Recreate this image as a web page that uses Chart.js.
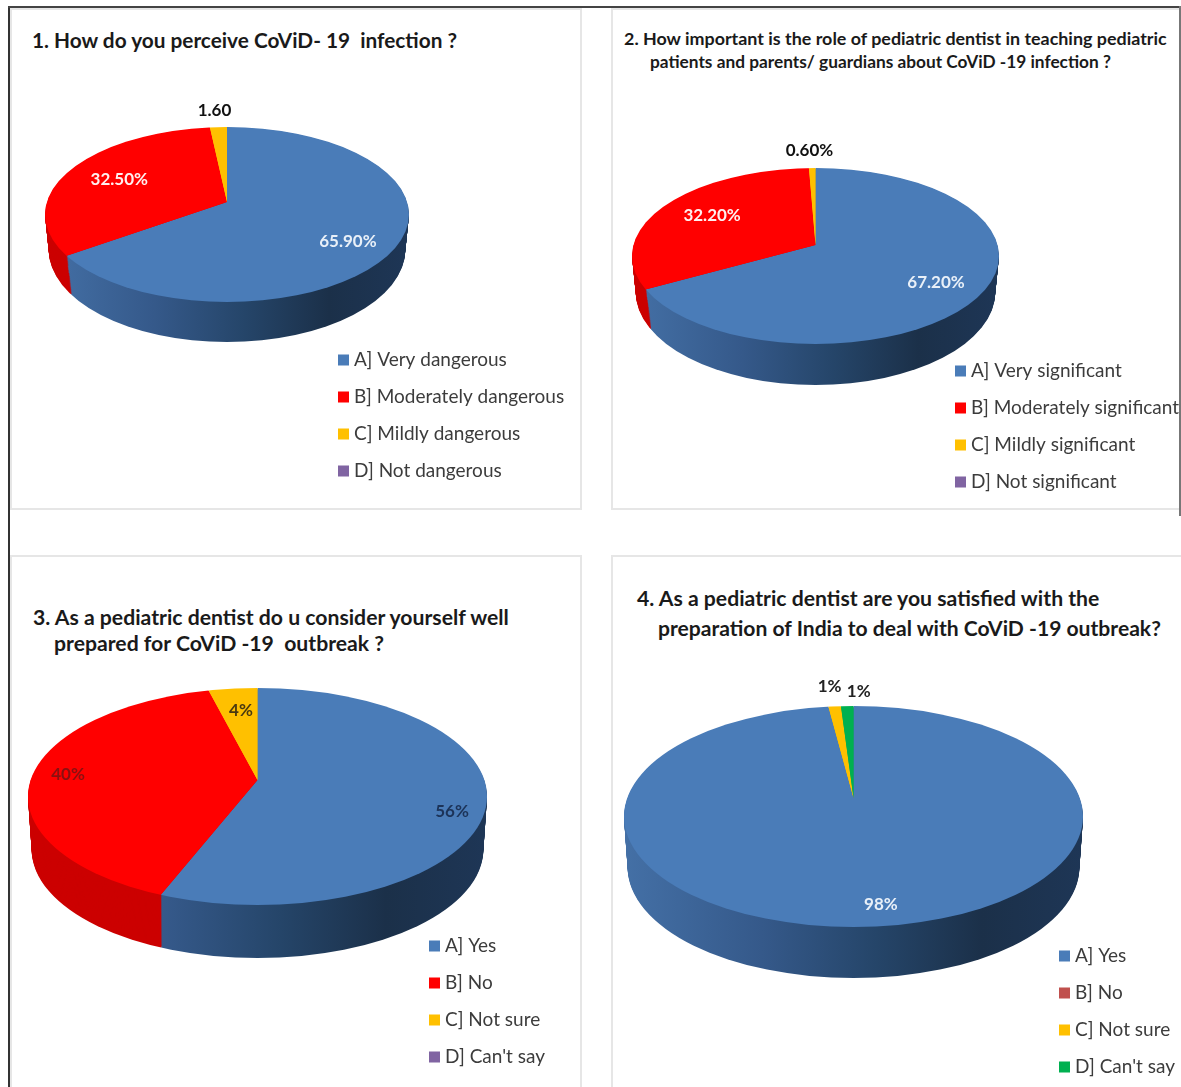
<!DOCTYPE html>
<html><head><meta charset="utf-8">
<script src="https://cdn.jsdelivr.net/npm/chart.js@4"></script>
<style>
html,body{margin:0;padding:0;background:#fff;width:1181px;height:1087px;overflow:hidden}
canvas{position:absolute;left:0;top:0}
.panel{position:absolute;box-sizing:border-box;border:2px solid #e6e6e6;background:#fff}
.t{position:absolute;font-family:Lato,sans-serif;font-weight:700;color:#1a1a1a;white-space:pre;line-height:1;transform:translateY(-50%)}
.rule{position:absolute;background:#333}
</style></head><body>
<script>
// ---- data ----
const categories1 = ["A] Very dangerous","B] Moderately dangerous","C] Mildly dangerous","D] Not dangerous"];
const values1 = [65.9,32.5,1.6,0];
const labels1 = ["65.90%","32.50%","1.60",""];
const categories2 = ["A] Very significant","B] Moderately significant","C] Mildly significant","D] Not significant"];
const values2 = [67.2,32.2,0.6,0];
const labels2 = ["67.20%","32.20%","0.60%",""];
const categories3 = ["A] Yes","B] No","C] Not sure","D] Can't say"];
const values3 = [56,40,4,0];
const labels3 = ["56%","40%","4%",""];
const categories4 = ["A] Yes","B] No","C] Not sure","D] Can't say"];
const values4 = [98,0,1,1];
const labels4 = ["98%","","1%","1%"];
const titles1 = ["1. How do you perceive CoViD- 19  infection ?"];
const titles2 = ["2. How important is the role of pediatric dentist in teaching pediatric","patients and parents/ guardians about CoViD -19 infection ?"];
const titles3 = ["3. As a pediatric dentist do u consider yourself well","prepared for CoViD -19  outbreak ?"];
const titles4 = ["4. As a pediatric dentist are you satisfied with the","preparation of India to deal with CoViD -19 outbreak?"];

// ---- styling and layout ----
const BLUE="#4a7cb8", RED="#ff0000", ORANGE="#ffc000", PURPLE="#8064a2", GREEN="#00b050", BRICK="#c0504d";
const W=1181, H=1087, OVER=1.35;
const panels=[
 {box:[10,8,572,502],cats:categories1,vals:values1,labs:labels1,cols:[BLUE,RED,ORANGE,PURPLE],
  cx:227,vy:202,rx:182,top:127,bot:302,depth:40,grow:5,kUp:.44,kDown:.52,taper:.02,
  legX:338,legY:360,
  lf:[.757,.657,1.15],ld:[[0,5],[0,0],[-2,0]],lc:["#e9f0f8","#fff0f0","#111"],
  titles:titles1,tpos:[[32,40]],tsize:[20.8]},
 {box:[611,8,572,502],cats:categories2,vals:values2,labs:labels2,cols:[BLUE,RED,ORANGE,PURPLE],
  cx:815.5,vy:245,rx:183.5,top:168,bot:344,depth:41,grow:5,kUp:.44,kDown:.49,taper:.02,
  legX:955,legY:371,
  lf:[.766,.65,1.165],ld:[[0,2],[0,-3],[-2,0]],lc:["#e9f0f8","#fff0f0","#111"],
  titles:titles2,tpos:[[624,39],[650,62]],tsize:[17.9,17.3]},
 {box:[10,555,572,534],cats:categories3,vals:values3,labs:labels3,cols:[BLUE,RED,ORANGE,PURPLE],
  cx:257.5,vy:780,rx:229.5,top:688,bot:905,depth:53,grow:0,kUp:.47,kDown:.47,taper:.016,
  legX:429,legY:946,
  lf:[.863,.827,.645],ld:[[0,14],[0,0],[2,0]],lc:["#1c3358","#8a1010","#4a3a10"],
  titles:titles3,tpos:[[33,618],[54,644]],tsize:[21.2,21.2]},
 {box:[611,555,572,534],cats:categories4,vals:values4,labs:labels4,cols:[BLUE,BRICK,ORANGE,GREEN],
  cx:853.5,vy:798,rx:229.5,top:706,bot:927,depth:51,grow:0,kUp:.46,kDown:.46,taper:.016,
  legX:1059,legY:956,
  lf:[1.0,0,1.06,1.01],ld:[[13,1],[0,0],[-1,0],[12.5,0]],lc:["#e9f0f8","#111","#222","#222"],
  titles:titles4,tpos:[[637,599],[658,628]],tsize:[21.2,21.1]}
];
const LEG_FONT=19, LEG_PAD=18, LEG_BOX=2, LEG_STROKE=9, LABEL_FONT="700 17px Lato, sans-serif";

panels.forEach(p=>{
  const d=document.createElement('div');d.className='panel';
  d.style.cssText=`left:${p.box[0]}px;top:${p.box[1]}px;width:${p.box[2]}px;height:${p.box[3]}px`;
  document.body.appendChild(d);
});
[[8,6,2,1081,'#333'],[8,6,1173,2,'#444'],[1179,6,2,510,'#777']].forEach(r=>{
  const d=document.createElement('div');d.className='rule';
  d.style.cssText=`left:${r[0]}px;top:${r[1]}px;width:${r[2]}px;height:${r[3]}px;background:${r[4]}`;
  document.body.appendChild(d);
});
panels.forEach(p=>{
  p.titles.forEach((t,i)=>{
    const d=document.createElement('div');d.className='t';d.textContent=t;
    d.style.cssText=`left:${p.tpos[i][0]}px;top:${p.tpos[i][1]}px;font-size:${p.tsize[i]}px`;
    document.body.appendChild(d);
  });
});

function sideFill(ctx,color,arc,p){
  if(color===BLUE){
    const hw=p.rx/OVER, g=ctx.createLinearGradient(arc.x-hw,0,arc.x+hw,0);
    g.addColorStop(0,"#4470a6");g.addColorStop(.3,"#35598a");g.addColorStop(.55,"#254569");g.addColorStop(.78,"#1b3049");g.addColorStop(1,"#1e3656");
    return g;
  }
  if(color===RED) return "#cc0000";
  return color;
}
function paintLayer(chart,p,d,side){
  const ctx=chart.ctx, arcs=chart.getDatasetMeta(0).data;
  const t=d/p.depth, ey=(p.top+p.bot)/2+d-p.grow*t, ry=(p.bot-p.top)/2+p.grow*t, shrink=1-p.taper*t;
  const yv=p.vy+d;
  [[p.kUp,yv-H,H+.5],[p.kDown,yv,H]].forEach(([k,y0,h])=>{
    ctx.save();
    ctx.beginPath();ctx.ellipse(p.cx,ey,p.rx*shrink,ry,0,0,Math.PI*2);ctx.clip();
    ctx.beginPath();ctx.rect(0,y0,W,h);ctx.clip();
    arcs.forEach((arc,i)=>{
      ctx.save();
      ctx.translate(p.cx,yv);ctx.scale(OVER,OVER*k);ctx.translate(-arc.x,-arc.y);
      const saved=arc.options;
      if(side) arc.options=Object.assign({},saved,{backgroundColor:sideFill(ctx,p.cols[i],arc,p)});
      arc.draw(ctx);
      arc.options=saved;
      ctx.restore();
    });
    ctx.restore();
  });
}
const pie3d={
  id:'pie3d',
  afterLayout(chart){
    const p=chart.options.plugins.pie3d.panel, l=chart.legend;
    const left=p.legX+LEG_STROKE/2-LEG_PAD, top=p.legY-LEG_FONT/2-LEG_PAD;
    const w=l.width,h=l.height;
    l.left=left;l.top=top;l.right=left+w;l.bottom=top+h;
  },
  beforeDatasetsDraw(chart){
    const p=chart.options.plugins.pie3d.panel;
    for(let d=p.depth;d>0;d--) paintLayer(chart,p,d,true);
    paintLayer(chart,p,0,false);
    const ctx=chart.ctx, arcs=chart.getDatasetMeta(0).data;
    ctx.save();ctx.textAlign='center';ctx.textBaseline='middle';
    ctx.font=LABEL_FONT;
    arcs.forEach((arc,i)=>{
      if(!p.labs[i])return;
      const mid=(arc.startAngle+arc.endAngle)/2, s=Math.sin(mid), f=p.lf[i];
      const x=p.cx+Math.cos(mid)*p.rx*f+p.ld[i][0];
      const y=p.vy+s*p.rx*(s>0?p.kDown:p.kUp)*f+p.ld[i][1];
      ctx.fillStyle=p.lc[i];ctx.fillText(p.labs[i],x,y);
    });
    ctx.restore();
    return false;
  }
};
panels.forEach(p=>{
  const c=document.createElement('canvas');c.width=W;c.height=H;c.style.width=W+'px';c.style.height=H+'px';
  document.body.appendChild(c);
  new Chart(c,{
    type:'pie',
    data:{labels:p.cats,datasets:[{data:p.vals,backgroundColor:p.cols,borderWidth:0,radius:p.rx}]},
    options:{
      responsive:false,animation:false,devicePixelRatio:1,
      layout:{padding:{left:p.cx-p.rx,right:W-p.cx-p.rx,top:p.vy-p.rx,bottom:H-p.vy-p.rx}},
      plugins:{
        title:{display:false},tooltip:{enabled:false},
        pie3d:{panel:p},
        legend:{
          display:true,position:'chartArea',align:'start',
          labels:{
            color:'#3c3c3c',font:{family:'Lato, sans-serif',size:LEG_FONT},padding:LEG_PAD,
            boxWidth:LEG_BOX,boxHeight:LEG_BOX,
            generateLabels(ch){
              return ch.data.labels.map((t,i)=>({text:t,fillStyle:p.cols[i],strokeStyle:p.cols[i],lineWidth:LEG_STROKE,hidden:false,index:i,fontColor:'#3c3c3c'}));
            }
          }
        }
      }
    },
    plugins:[pie3d]
  });
});
</script>
</body></html>
